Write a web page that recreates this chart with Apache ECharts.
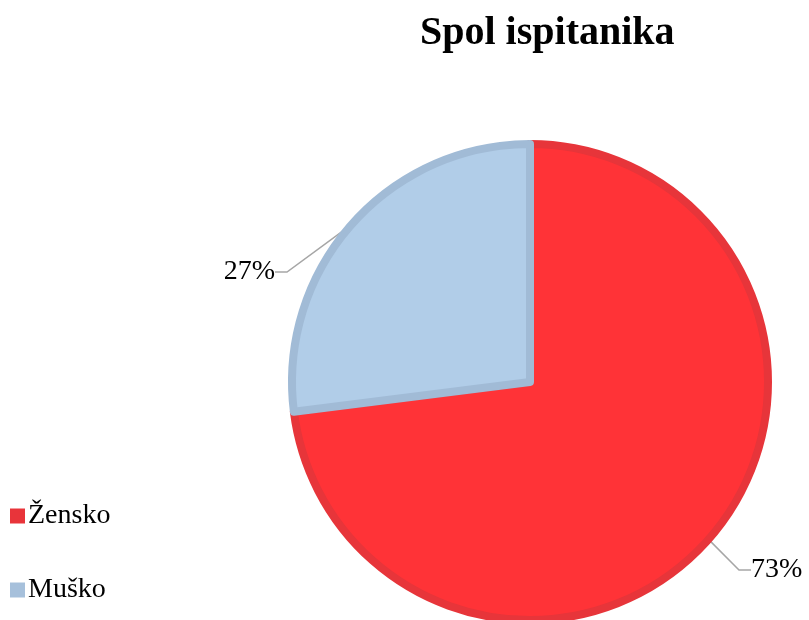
<!DOCTYPE html>
<html>
<head>
<meta charset="utf-8">
<script src="https://cdn.jsdelivr.net/npm/echarts@6/dist/echarts.min.js"></script>
<style>
html,body{margin:0;padding:0;background:#fff;}
#chart{width:809px;height:620px;}
</style>
</head>
<body>
<div id="chart"></div>
<script>
var categories = ['Žensko', 'Muško'];
var values = [73, 27];
var fills = ['#ff3337', '#b1cde8'];
var borders = ['#e7353a', '#a1bbd6'];

var myChart = echarts.init(document.getElementById('chart'));

var data = categories.map(function (name, i) {
  return {
    name: name,
    value: values[i],
    itemStyle: { color: fills[i], borderColor: borders[i], borderWidth: 8 }
  };
});

var option = {
  backgroundColor: '#fff',
  animation: false,
  title: {
    text: 'Spol ispitanika',
    left: 415,
    top: 9,
    textStyle: {
      fontFamily: 'Liberation Serif',
      fontWeight: 'bold',
      fontSize: 40,
      color: '#000'
    }
  },
  legend: {
    orient: 'vertical',
    left: 5,
    top: 497,
    itemGap: 46,
    itemWidth: 15,
    itemHeight: 15,
    icon: 'rect',
    itemStyle: { borderWidth: 0 },
    data: [
      { name: 'Žensko', itemStyle: { color: '#e8343a' } },
      { name: 'Muško', itemStyle: { color: '#a6c0db' } }
    ],
    textStyle: {
      fontFamily: 'Liberation Serif',
      fontSize: 28,
      color: '#000',
      padding: [0, 0, 0, -2]
    }
  },
  series: [{
    type: 'pie',
    center: [530, 382],
    radius: 238,
    startAngle: 90,
    clockwise: true,
    data: data,
    label: {
      show: true,
      formatter: '{c}%',
      fontFamily: 'Liberation Serif',
      fontSize: 28,
      color: '#000'
    },
    labelLine: {
      show: true,
      length: 20,
      length2: 12,
      lineStyle: { color: '#a6a6a6', width: 1.5 }
    },
    labelLayout: function (params) {
      if (params.dataIndex === 0) {
        return { x: 751, y: 570, align: 'left', verticalAlign: 'middle' };
      }
      return { x: 275, y: 272, align: 'right', verticalAlign: 'middle' };
    },
    emphasis: { disabled: true }
  }]
};

myChart.setOption(option);
</script>
</body>
</html>
